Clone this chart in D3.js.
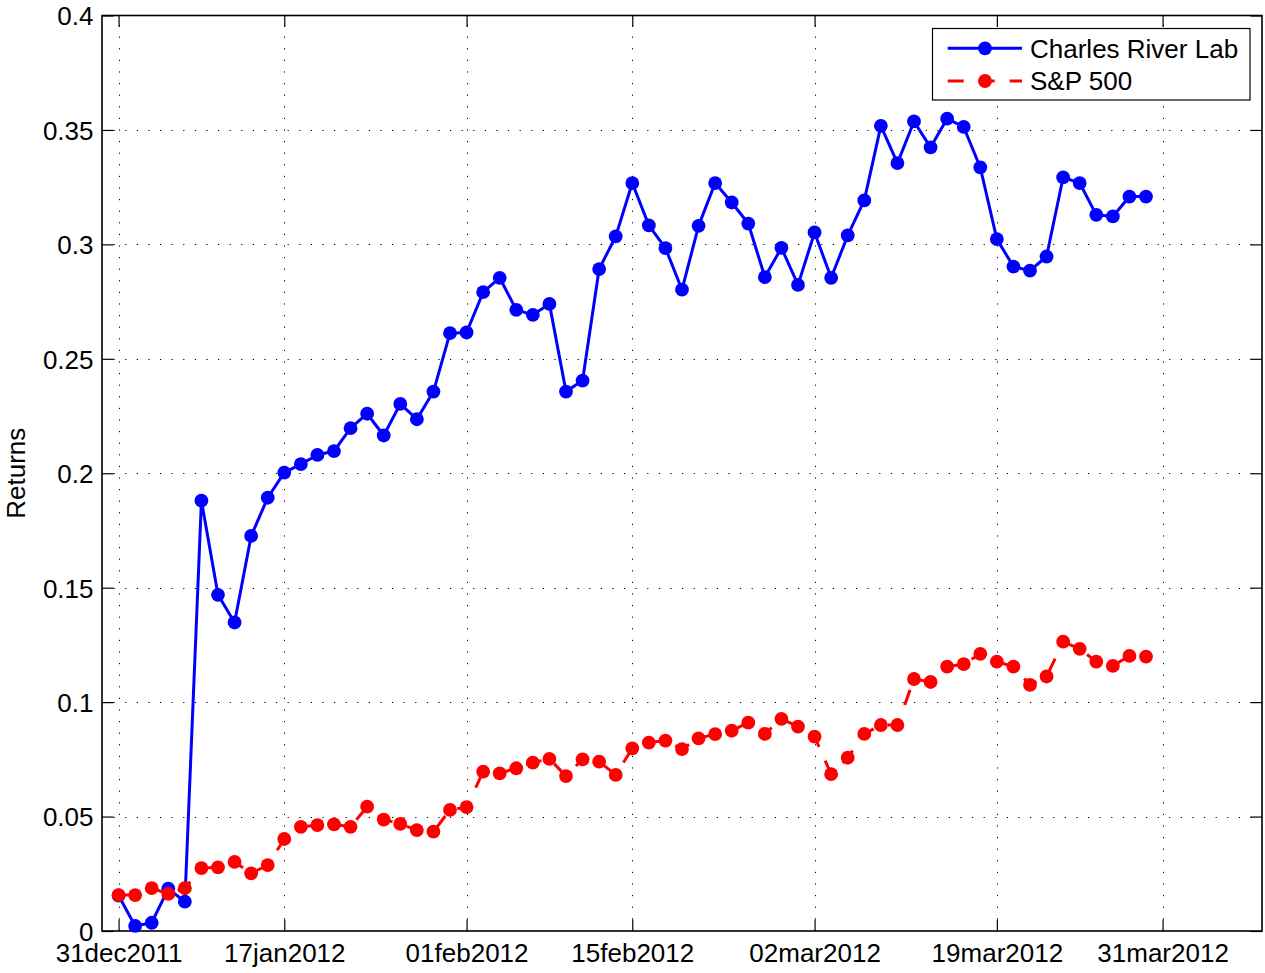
<!DOCTYPE html>
<html>
<head>
<meta charset="utf-8">
<script src="https://cdn.jsdelivr.net/npm/d3@7"></script>
<style>
  html, body { margin: 0; padding: 0; background: #fff; }
  svg { display: block; }
  text { font-family: "Liberation Sans", Arial, Helvetica, sans-serif; fill: #000; }
</style>
</head>
<body>
<svg id="chart" width="1265" height="973"></svg>
<script>
// ---------- data ----------
const xTickIndex  = [0, 10, 21, 31, 42, 53, 63];
const xTickLabels = ["31dec2011", "17jan2012", "01feb2012", "15feb2012", "02mar2012", "19mar2012", "31mar2012"];
const yTicks = [0, 0.05, 0.1, 0.15, 0.2, 0.25, 0.3, 0.35, 0.4];
const yTickLabels = ["0", "0.05", "0.1", "0.15", "0.2", "0.25", "0.3", "0.35", "0.4"];
const seriesNames = ["Charles River Lab", "S&P 500"];

const charlesRiver = [
  0.0155, 0.0022, 0.0036, 0.0185, 0.0128, 0.1880, 0.1469, 0.1348, 0.1726, 0.1893,
  0.2003, 0.2040, 0.2080, 0.2097, 0.2197, 0.2260, 0.2165, 0.2303, 0.2236, 0.2357,
  0.2612, 0.2615, 0.2791, 0.2854, 0.2714, 0.2692, 0.2740, 0.2357, 0.2405, 0.2892,
  0.3035, 0.3268, 0.3083, 0.2984, 0.2802, 0.3081, 0.3268, 0.3183, 0.3091, 0.2857,
  0.2985, 0.2823, 0.3052, 0.2854, 0.3039, 0.3192, 0.3518, 0.3355, 0.3537, 0.3424,
  0.3549, 0.3513, 0.3336, 0.3023, 0.2903, 0.2885, 0.2947, 0.3293, 0.3268, 0.3129,
  0.3122, 0.3209, 0.3209
];
const sp500 = [
  0.0157, 0.0157, 0.0187, 0.0162, 0.0187, 0.0275, 0.0278, 0.0302, 0.0252, 0.0288,
  0.0402, 0.0455, 0.0463, 0.0466, 0.0455, 0.0543, 0.0487, 0.0468, 0.0441, 0.0434,
  0.0529, 0.0541, 0.0696, 0.0689, 0.0711, 0.0736, 0.0752, 0.0677, 0.0750, 0.0740,
  0.0682, 0.0798, 0.0823, 0.0832, 0.0795, 0.0842, 0.0860, 0.0875, 0.0910, 0.0861,
  0.0927, 0.0893, 0.0849, 0.0685, 0.0757, 0.0861, 0.0900, 0.0900, 0.1101, 0.1088,
  0.1155, 0.1166, 0.1211, 0.1177, 0.1155, 0.1075, 0.1112, 0.1264, 0.1233, 0.1177,
  0.1158, 0.1202, 0.1199
];

// ---------- layout ----------
const L = 102, R = 1262, T = 15.5, B = 931;
const svg = d3.select("#chart");
const x = d3.scaleLinear().domain([-1, 69]).range([L, R]);
const y = d3.scaleLinear().domain([0, 0.4]).range([B, T]);
const FONT = 26;
const tickLen = 11.6;

// ---------- grid ----------
const grid = svg.append("g").attr("stroke", "#000").attr("stroke-width", 1)
  .attr("stroke-dasharray", "1.2,10.4").attr("fill", "none");
grid.selectAll("line.v").data(xTickIndex).enter().append("line")
  .attr("x1", d => Math.round(x(d)) + 0.5).attr("x2", d => Math.round(x(d)) + 0.5)
  .attr("y1", B).attr("y2", T);
grid.selectAll("line.h").data(yTicks.filter(v => v > 0 && v < 0.4)).enter().append("line")
  .attr("y1", d => Math.round(y(d)) + 0.5).attr("y2", d => Math.round(y(d)) + 0.5)
  .attr("x1", L).attr("x2", R);

// ---------- axes ----------
const xAxis = d3.axisBottom(x).tickValues(xTickIndex)
  .tickFormat((d, i) => xTickLabels[i]).tickSizeInner(-tickLen).tickSizeOuter(0).tickPadding(12.5);
const gx = svg.append("g").attr("transform", `translate(0,${B})`).call(xAxis);
const xTop = d3.axisTop(x).tickValues(xTickIndex).tickFormat("").tickSizeInner(-tickLen).tickSizeOuter(0);
const gxt = svg.append("g").attr("transform", `translate(0,${T})`).call(xTop);

const yAxis = d3.axisLeft(y).tickValues(yTicks)
  .tickFormat((d, i) => yTickLabels[i]).tickSizeInner(-tickLen).tickSizeOuter(0).tickPadding(8.5);
const gy = svg.append("g").attr("transform", `translate(${L},0)`).call(yAxis);
const yRight = d3.axisRight(y).tickValues(yTicks).tickFormat("").tickSizeInner(-tickLen).tickSizeOuter(0);
const gyr = svg.append("g").attr("transform", `translate(${R},0)`).call(yRight);

[gx, gxt, gy, gyr].forEach(g => {
  g.select(".domain").remove();
  g.selectAll(".tick line").attr("stroke", "#000").attr("stroke-width", 1.2);
  g.selectAll("text").attr("font-size", FONT).attr("font-family", "Liberation Sans, Arial, sans-serif").attr("fill", "#000");
});
gy.selectAll("text").attr("dy", "0.36em");

// box
svg.append("rect").attr("x", L).attr("y", T).attr("width", R - L).attr("height", B - T)
  .attr("fill", "none").attr("stroke", "#000").attr("stroke-width", 1.6);

// y label
svg.append("text").attr("transform", `translate(25,${(T + B) / 2}) rotate(-90)`)
  .attr("text-anchor", "middle").attr("font-size", FONT).text("Returns");

// ---------- series ----------
const line = d3.line().x((d, i) => x(i)).y(d => y(d));
const MR = 6.9;

svg.append("path").datum(charlesRiver).attr("d", line)
  .attr("fill", "none").attr("stroke", "#0000ff").attr("stroke-width", 3).attr("stroke-linejoin", "round");
svg.append("g").selectAll("circle").data(charlesRiver).enter().append("circle")
  .attr("cx", (d, i) => x(i)).attr("cy", d => y(d)).attr("r", MR).attr("fill", "#0000ff");

svg.append("path").datum(sp500).attr("d", line)
  .attr("fill", "none").attr("stroke", "#ff0000").attr("stroke-width", 3)
  .attr("stroke-dasharray", "16,15");
svg.append("g").selectAll("circle").data(sp500).enter().append("circle")
  .attr("cx", (d, i) => x(i)).attr("cy", d => y(d)).attr("r", MR).attr("fill", "#ff0000");

// ---------- legend ----------
const lg = svg.append("g");
lg.append("rect").attr("x", 932.5).attr("y", 28.5).attr("width", 317.5).attr("height", 71.5)
  .attr("fill", "#fff").attr("stroke", "#000").attr("stroke-width", 1.2);
const rows = [
  { name: seriesNames[0], color: "#0000ff", dash: null, cy: 48.3 },
  { name: seriesNames[1], color: "#ff0000", dash: "16,15", cy: 81 }
];
rows.forEach(r => {
  const ln = lg.append("line").attr("x1", 947.7).attr("x2", 1022).attr("y1", r.cy).attr("y2", r.cy)
    .attr("stroke", r.color).attr("stroke-width", 3);
  if (r.dash) ln.attr("stroke-dasharray", r.dash);
  lg.append("circle").attr("cx", 985).attr("cy", r.cy).attr("r", MR).attr("fill", r.color);
  lg.append("text").attr("x", 1030).attr("y", r.cy + 9.3).attr("font-size", FONT).text(r.name);
});
</script>
</body>
</html>
